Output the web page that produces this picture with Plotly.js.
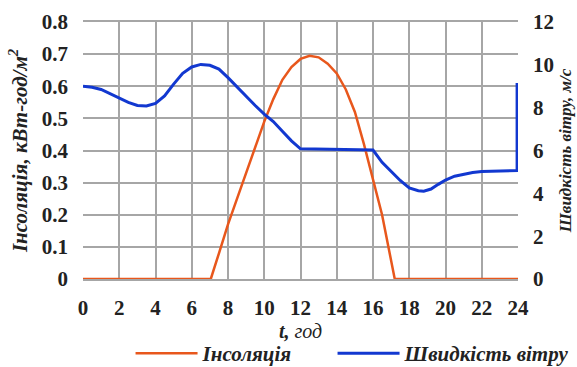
<!DOCTYPE html>
<html>
<head>
<meta charset="utf-8">
<script src="https://cdn.plot.ly/plotly-3.0.1.min.js"></script>
<style>html,body{margin:0;padding:0;background:#fff;}#chart{width:577px;height:367px;}</style>
</head>
<body>
<div id="chart"></div>
<script>
// Insolation, kWh/m2 (left axis)
const insolT = [0, 7.05, 7.5, 8, 8.5, 9, 9.5, 10, 10.5, 11, 11.5, 12, 12.5, 13, 13.5, 14, 14.5, 15, 15.5, 16, 16.5, 17.2, 24];
const insolV = [0, 0, 0.08, 0.17, 0.25, 0.33, 0.41, 0.49, 0.56, 0.62, 0.66, 0.685, 0.695, 0.69, 0.67, 0.64, 0.59, 0.52, 0.42, 0.31, 0.2, 0, 0];

// Wind speed, m/s (right axis)
const windT = [0, 0.5, 1, 1.5, 2, 2.5, 3, 3.5, 4, 4.5, 5, 5.5, 6, 6.5, 7, 7.5, 8, 8.5, 9, 9.5, 10, 10.5, 11, 11.5, 12, 13, 14, 15, 16, 16.5, 17, 17.5, 18, 18.5, 18.8, 19.2, 19.6, 20, 20.5, 21, 21.5, 22, 23, 23.95, 23.95];
const windV = [9.0, 8.95, 8.85, 8.65, 8.45, 8.25, 8.1, 8.08, 8.2, 8.55, 9.1, 9.6, 9.9, 10.02, 9.98, 9.8, 9.4, 8.95, 8.5, 8.1, 7.7, 7.35, 6.9, 6.45, 6.08, 6.07, 6.05, 6.04, 6.02, 5.45, 5.0, 4.6, 4.25, 4.12, 4.1, 4.2, 4.42, 4.62, 4.8, 4.9, 4.97, 5.02, 5.05, 5.06, 9.15];

const xTicks = [0, 2, 4, 6, 8, 10, 12, 14, 16, 18, 20, 22, 24];
const yTicks = [0, 0.1, 0.2, 0.3, 0.4, 0.5, 0.6, 0.7, 0.8];
const yTickText = ['0', '0.1', '0.2', '0.3', '0.4', '0.5', '0.6', '0.7', '0.8'];
const y2Ticks = [0, 2, 4, 6, 8, 10, 12];

const seriesNames = ['Інсоляція', 'Швидкість вітру'];

const serif = 'Liberation Serif, Times New Roman, serif';
const tickFont = {family: serif, size: 21, color: '#222', weight: 'bold'};
const gridColor = '#a6a6a6';

const data = [
  {x: insolT, y: insolV, type: 'scatter', mode: 'lines', name: seriesNames[0],
   line: {color: '#E8571C', width: 2.5}, yaxis: 'y', legendwidth: 125},
  {x: windT, y: windV, type: 'scatter', mode: 'lines', name: seriesNames[1],
   line: {color: '#1238D0', width: 3}, yaxis: 'y2'}
];

const layout = {
  width: 577, height: 367,
  margin: {l: 83, r: 59, t: 22, b: 88, autoexpand: false},
  paper_bgcolor: '#fff', plot_bgcolor: '#fff',
  showlegend: true,
  legend: {orientation: 'h', x: 1.13, xanchor: 'right',
           y: -0.29, yanchor: 'middle',
           font: {family: serif, size: 21, color: '#222', weight: 'bold', style: 'italic'},
           itemwidth: 62, bgcolor: 'rgba(0,0,0,0)'},
  xaxis: {range: [0, 24], tickvals: xTicks, ticktext: xTicks.map(String),
          showgrid: true, gridcolor: gridColor, gridwidth: 2,
          showline: true, linecolor: gridColor, linewidth: 2, mirror: true,
          zeroline: false, ticks: '', ticklabelstandoff: 9,
          tickfont: tickFont,
          title: {text: '<b><i>t,</i></b> <i>год</i>', font: {family: serif, size: 20, color: '#222', style: 'italic'}, standoff: 3}},
  yaxis: {range: [0, 0.8], tickvals: yTicks, ticktext: yTickText,
          showgrid: true, gridcolor: gridColor, gridwidth: 2,
          showline: false, zeroline: false, ticks: '', ticklabelstandoff: 14,
          tickfont: tickFont,
          title: {text: 'Інсоляція, кВт-год/м<sup>2</sup>', font: {family: serif, size: 21, color: '#222', weight: 'bold', style: 'italic'}, standoff: 8}},
  yaxis2: {range: [0, 12], tickvals: y2Ticks, ticktext: y2Ticks.map(String),
           overlaying: 'y', side: 'right', showgrid: false, zeroline: false,
           showline: false, ticks: '', ticklabelstandoff: 14,
           tickfont: tickFont,
           title: {text: 'Швидкість вітру, м/с', font: {family: serif, size: 17, color: '#222', weight: 'bold', style: 'italic'}, standoff: 6}}
};

Plotly.newPlot('chart', data, layout, {displayModeBar: false, responsive: false});
</script>
</body>
</html>
